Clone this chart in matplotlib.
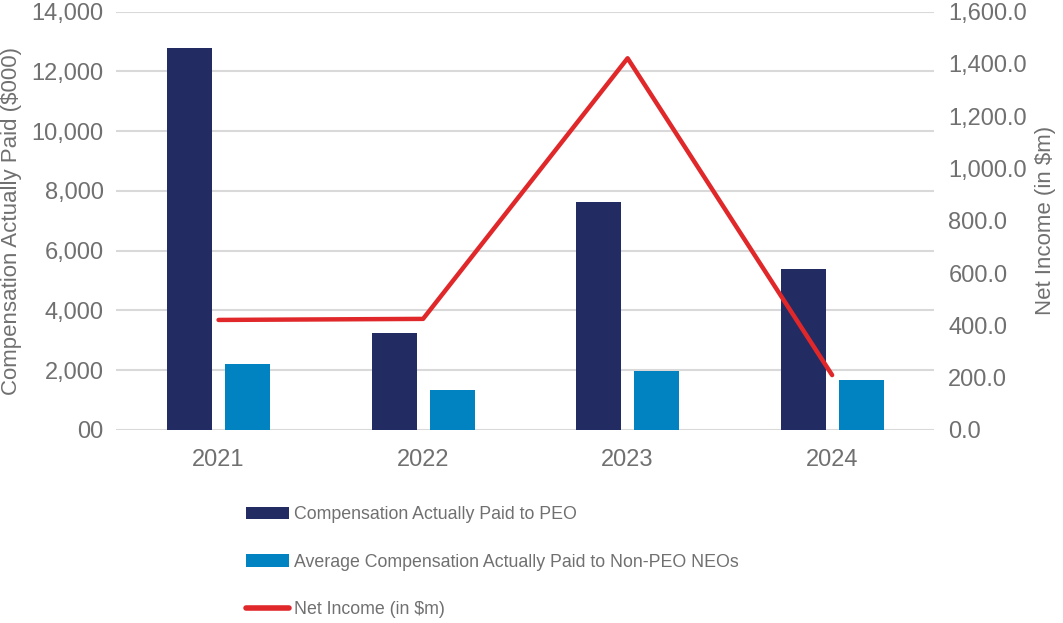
import matplotlib
matplotlib.use('Agg')
import matplotlib.pyplot as plt
import numpy as np
from matplotlib.patches import Patch
from matplotlib.lines import Line2D

# Data
years = ['2021', '2022', '2023', '2024']
cap_peo = [12775, 3257, 7631, 5378]          # $000
cap_non_peo = [2209, 1339, 1986, 1673]       # $000
net_income = [421, 425, 1422, 210]           # $m

left_ticks = [0, 2000, 4000, 6000, 8000, 10000, 12000, 14000]
left_labels = ['00', '2,000', '4,000', '6,000', '8,000', '10,000', '12,000', '14,000']
right_ticks = [0, 200, 400, 600, 800, 1000, 1200, 1400, 1600]
right_labels = ['0.0', '200.0', '400.0', '600.0', '800.0', '1,000.0', '1,200.0', '1,400.0', '1,600.0']

legend_labels = ['Compensation Actually Paid to PEO',
                 'Average Compensation Actually Paid to Non-PEO NEOs',
                 'Net Income (in $m)']

navy = '#232b63'
blue = '#0083c0'
red = '#e0282a'
text_grey = '#707070'
grid_grey = '#d9d9d9'

plt.rcParams['font.family'] = ['Liberation Sans Narrow', 'Liberation Sans', 'DejaVu Sans']

fig = plt.figure(figsize=(10.63, 6.23), dpi=100)
ax = fig.add_axes([0.1094, 0.3098, 0.7696, 0.6714])

x = np.arange(len(years))
width = 0.22
offset = 0.142
ax.bar(x - offset, cap_peo, width, color=navy, zorder=2)
ax.bar(x + offset, cap_non_peo, width, color=blue, zorder=2)

ax.set_xlim(-0.5, len(years) - 0.5)
ax.set_ylim(0, 14000)
ax.set_yticks(left_ticks)
ax.set_yticklabels(left_labels)
ax.set_xticks(x)
ax.set_xticklabels(years)
ax.grid(axis='y', color=grid_grey, linewidth=1.5, zorder=0)
ax.set_axisbelow(True)
for s in ax.spines.values():
    s.set_visible(False)
ax.tick_params(axis='y', length=0, pad=9, labelsize=17, labelcolor=text_grey)
ax.tick_params(axis='x', length=0, pad=14, labelsize=17, labelcolor=text_grey)
ax.set_ylabel('Compensation Actually Paid ($000)', fontsize=16, color=text_grey, labelpad=7)

ax2 = ax.twinx()
ax2.plot(x, net_income, color=red, linewidth=3.2, solid_capstyle='round', zorder=3)
ax2.set_ylim(0, 1600)
ax2.set_yticks(right_ticks)
ax2.set_yticklabels(right_labels)
for s in ax2.spines.values():
    s.set_visible(False)
ax2.tick_params(axis='y', length=0, pad=10, labelsize=17, labelcolor=text_grey)
ax2.set_ylabel('Net Income (in $m)', fontsize=16, color=text_grey, labelpad=6)

handles = [Patch(facecolor=navy), Patch(facecolor=blue),
           Line2D([0], [0], color=red, linewidth=4, solid_capstyle='round')]
leg = fig.legend(handles, legend_labels, loc='upper left',
                 bbox_to_anchor=(0.231, 0.187), bbox_transform=fig.transFigure,
                 frameon=False, fontsize=12.8, handlelength=2.45, handleheight=0.68,
                 handletextpad=0.25, labelspacing=1.7, borderaxespad=0, borderpad=0)
for t in leg.get_texts():
    t.set_color(text_grey)

fig.savefig('out.png', dpi=100)
